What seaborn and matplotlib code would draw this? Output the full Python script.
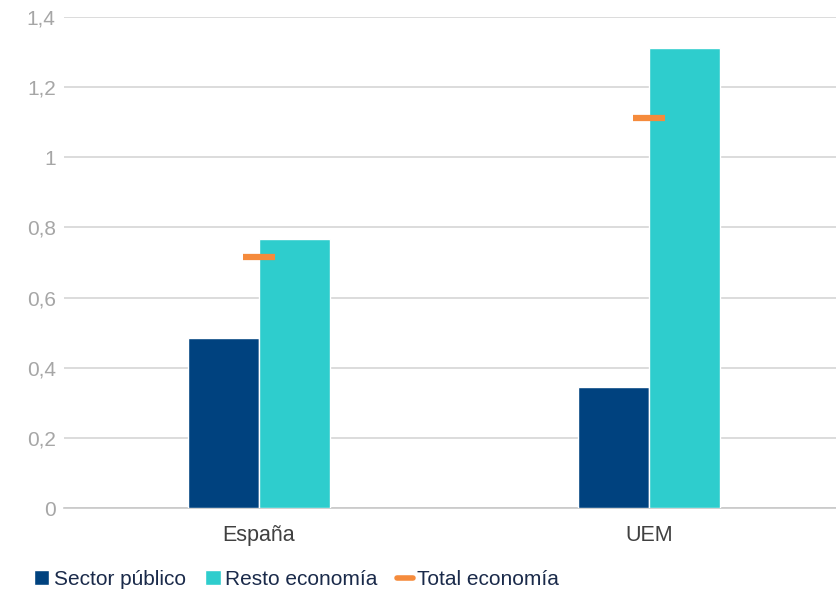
import pandas as pd
import matplotlib.pyplot as plt
import seaborn as sns
from matplotlib.patches import Patch
from matplotlib.lines import Line2D

# Datos
regiones = ['España', 'UEM']
sector_publico = [0.485, 0.345]
resto_economia = [0.767, 1.312]
total_economia = [0.716, 1.112]

series = ['Sector público', 'Resto economía']
colores = {'Sector público': '#00427F', 'Resto economía': '#2ECDCD'}
color_total = '#F58B3C'

df = pd.DataFrame({
    'region': regiones * 2,
    'serie': [series[0]] * 2 + [series[1]] * 2,
    'valor': sector_publico + resto_economia,
})

sns.set_style("white")
plt.rcParams['font.family'] = ['Liberation Sans', 'DejaVu Sans']

fig = plt.figure(figsize=(8.36, 5.9), dpi=100)
ax = fig.add_axes([64 / 836, 82 / 590, 772 / 836, 491 / 590])

sns.barplot(data=df, x='region', y='valor', hue='serie', palette=colores,
            width=0.364, saturation=1, legend=False, ax=ax, zorder=3)
ax.plot(range(len(regiones)), total_economia, linestyle='none', marker='_',
        markersize=23, markeredgewidth=4.5, color=color_total, zorder=4)

ax.set_yticks([0, 0.2, 0.4, 0.6, 0.8, 1.0, 1.2, 1.4])
ax.set_yticklabels(['0', '0,2', '0,4', '0,6', '0,8', '1', '1,2', '1,4'])
ax.set_xticks([-0.5, 0.5], minor=True)
ax.set_xlim(-0.5, 1.5 - 8 / 390)
ax.set_ylim(0, 1.4)
ax.set_xlabel('')
ax.set_ylabel('')
ax.yaxis.grid(True, color='#d9d9d9', linewidth=1.3, zorder=0)
ax.set_axisbelow(True)

for s in ['left', 'right', 'top']:
    ax.spines[s].set_visible(False)
ax.spines['bottom'].set_color('#c8c8c8')
ax.spines['bottom'].set_linewidth(1.2)

ax.tick_params(axis='x', which='major', length=0, pad=12, labelsize=15.5,
               labelcolor='#404040')
ax.tick_params(axis='x', which='minor', length=7, color='#c8c8c8', width=1)
ax.tick_params(axis='y', length=0, pad=6, labelsize=15, labelcolor='#a6a6a6')

handles = [Patch(facecolor=colores[series[0]]),
           Patch(facecolor=colores[series[1]]),
           Line2D([], [], color=color_total, linewidth=4)]
fig.legend(handles, ['Sector público', 'Resto economía', 'Total economía'],
           loc='lower left', bbox_to_anchor=(0.018, -0.03), ncol=3, frameon=False,
           fontsize=15, handlelength=0.75, handleheight=0.75, handletextpad=0.2,
           columnspacing=0.95, labelcolor='#1a2a4a')

fig.savefig('out.png', dpi=100)
plt.close(fig)
